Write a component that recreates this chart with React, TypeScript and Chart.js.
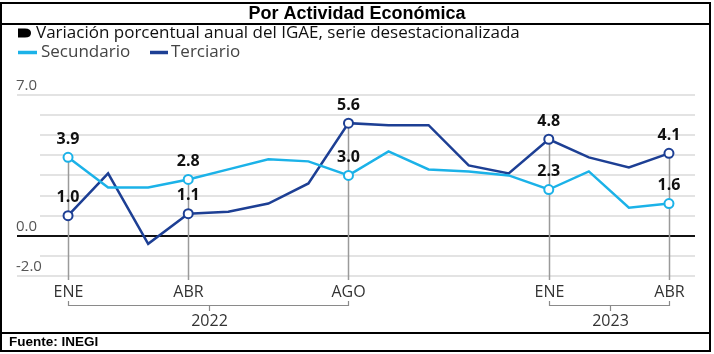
import React, { useEffect, useRef } from "react";
import { Chart, registerables } from "chart.js";

Chart.register(...registerables);

const months = ["ENE", "FEB", "MAR", "ABR", "MAY", "JUN", "JUL", "AGO", "SEP", "OCT", "NOV", "DIC", "ENE", "FEB", "MAR", "ABR"];
const secundario = [3.9, 2.4, 2.4, 2.8, 3.3, 3.8, 3.7, 3.0, 4.2, 3.3, 3.2, 3.0, 2.3, 3.2, 1.4, 1.6];
const terciario = [1.0, 3.1, -0.4, 1.1, 1.2, 1.6, 2.6, 5.6, 5.5, 5.5, 3.5, 3.1, 4.8, 3.9, 3.4, 4.1];
const markedIdx = [0, 3, 7, 12, 15];
const yearGroups = [
  { label: "2022", from: 0, to: 7 },
  { label: "2023", from: 12, to: 15 },
];
const yTicks = [-2, -1, 0, 1, 2, 3, 4, 5, 6, 7];
const yLabeled = [-2, 0, 7];

const LIGHT = "#1bb2e8";
const DARK = "#1d3f94";
const FONT = "'Open Sans', 'DejaVu Sans', sans-serif";

export default function App() {
  const ref = useRef<HTMLCanvasElement | null>(null);
  useEffect(() => {
    if (!ref.current) return;
    const pointR = (ctx: any) => (markedIdx.includes(ctx.dataIndex) ? 4.5 : 0);
    const deco = {
      id: "deco",
      beforeDatasetsDraw(chart: any) {
        const c = chart.ctx;
        const xs = chart.scales.x;
        const ys = chart.scales.y;
        const ca = chart.chartArea;
        c.save();
        yTicks.forEach((v) => {
          const y = Math.round(ys.getPixelForValue(v));
          const lab = yLabeled.includes(v);
          c.beginPath();
          c.strokeStyle = v === 0 ? "#111" : "#e3e3e3";
          c.lineWidth = 2;
          c.moveTo(lab ? 17 : ca.left, y);
          c.lineTo(ca.right, y);
          c.stroke();
          if (lab) {
            c.fillStyle = "#555";
            c.font = `15px ${FONT}`;
            c.textAlign = "left";
            c.textBaseline = "bottom";
            c.fillText(v.toFixed(1), 16, y - 2);
          }
        });
        markedIdx.forEach((i) => {
          const x = Math.round(xs.getPixelForValue(i)) + 0.5;
          const top = Math.min(ys.getPixelForValue(secundario[i]), ys.getPixelForValue(terciario[i]));
          c.beginPath();
          c.strokeStyle = "#9a9a9a";
          c.lineWidth = 1.5;
          c.moveTo(x, top);
          c.lineTo(x, ca.bottom + 4);
          c.stroke();
          c.fillStyle = "#333";
          c.font = `16px ${FONT}`;
          c.textAlign = "center";
          c.textBaseline = "middle";
          c.fillText(months[i], x, 292);
        });
        yearGroups.forEach((g) => {
          const x1 = Math.round(xs.getPixelForValue(g.from)) + 0.5;
          const x2 = Math.round(xs.getPixelForValue(g.to)) + 0.5;
          const xm = Math.round((x1 + x2) / 2) + 0.5;
          c.beginPath();
          c.strokeStyle = "#8a8a8a";
          c.lineWidth = 1.2;
          c.moveTo(x1, 301);
          c.lineTo(x1, 305.5);
          c.lineTo(x2, 305.5);
          c.lineTo(x2, 301);
          c.moveTo(xm, 305.5);
          c.lineTo(xm, 311);
          c.stroke();
          c.fillStyle = "#333";
          c.font = `16px ${FONT}`;
          c.textAlign = "center";
          c.textBaseline = "middle";
          c.fillText(g.label, xm, 321);
        });
        c.restore();
      },
      afterDatasetsDraw(chart: any) {
        const c = chart.ctx;
        const xs = chart.scales.x;
        const ys = chart.scales.y;
        c.save();
        c.fillStyle = "#111";
        c.font = `bold 16px ${FONT}`;
        c.textAlign = "center";
        c.textBaseline = "middle";
        [secundario, terciario].forEach((arr) => {
          markedIdx.forEach((i) => {
            const x = xs.getPixelForValue(i);
            const y = ys.getPixelForValue(arr[i]);
            c.fillText(arr[i].toFixed(1), x, y - 18);
          });
        });
        c.strokeStyle = "#000";
        c.lineWidth = 2;
        c.strokeRect(1, 3, 709, 348);
        c.beginPath();
        c.moveTo(1, 24);
        c.lineTo(710, 24);
        c.moveTo(1, 333);
        c.lineTo(710, 333);
        c.stroke();
        c.fillStyle = "#000";
        c.font = `bold 18px 'Liberation Sans', Arial, sans-serif`;
        c.textAlign = "center";
        c.textBaseline = "middle";
        c.fillText("Por Actividad Económica", 357, 14);
        c.font = `bold 13.5px 'Liberation Sans', Arial, sans-serif`;
        c.textAlign = "left";
        c.fillText("Fuente: INEGI", 9, 342);
        c.beginPath();
        c.moveTo(18, 28.5);
        c.lineTo(25, 28.5);
        c.quadraticCurveTo(31, 28.5, 31, 33);
        c.quadraticCurveTo(31, 37.5, 25, 37.5);
        c.lineTo(18, 37.5);
        c.closePath();
        c.fill();
        c.fillStyle = "#111";
        c.font = `17px ${FONT}`;
        c.fillText("Variación porcentual anual del IGAE, serie desestacionalizada", 36, 33);
        c.lineWidth = 3.5;
        c.strokeStyle = LIGHT;
        c.beginPath();
        c.moveTo(18, 52.5);
        c.lineTo(37, 52.5);
        c.stroke();
        c.strokeStyle = DARK;
        c.beginPath();
        c.moveTo(150, 52.5);
        c.lineTo(168, 52.5);
        c.stroke();
        c.fillStyle = "#444";
        c.font = `17px ${FONT}`;
        c.fillText("Secundario", 41, 52.5);
        c.fillText("Terciario", 171, 52.5);
        c.restore();
      },
    };
    const chart = new Chart(ref.current, {
      type: "line",
      data: {
        datasets: [
          {
            label: "Secundario",
            data: secundario.map((v, i) => ({ x: i, y: v })),
            borderColor: LIGHT,
            backgroundColor: "#fff",
            borderWidth: 2.5,
            pointRadius: pointR,
            pointBorderWidth: 2,
            pointBackgroundColor: "#fff",
            pointBorderColor: LIGHT,
            tension: 0,
          },
          {
            label: "Terciario",
            data: terciario.map((v, i) => ({ x: i, y: v })),
            borderColor: DARK,
            backgroundColor: "#fff",
            borderWidth: 2.5,
            pointRadius: pointR,
            pointBorderWidth: 2,
            pointBackgroundColor: "#fff",
            pointBorderColor: DARK,
            tension: 0,
          },
        ],
      },
      options: {
        animation: false,
        responsive: false,
        devicePixelRatio: 1,
        layout: { padding: { left: 40, right: 19, top: 95, bottom: 78 } },
        plugins: { legend: { display: false }, tooltip: { enabled: false } },
        scales: {
          x: { type: "linear", min: -0.7, max: 15.65, display: false },
          y: { type: "linear", min: -2, max: 7, display: false },
        },
      },
      plugins: [deco],
    } as any);
    return () => chart.destroy();
  }, []);
  return (
    <div style={{ position: "fixed", left: 0, top: 0, width: 714, height: 354, background: "#fff" }}>
      <canvas ref={ref} width={714} height={354} style={{ width: 714, height: 354 }} />
    </div>
  );
}
